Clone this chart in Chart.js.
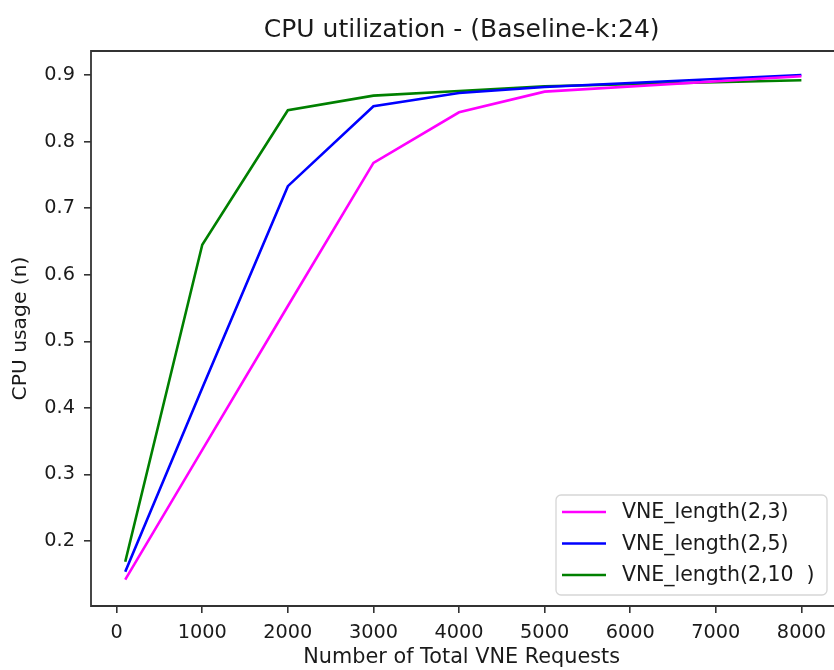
<!DOCTYPE html>
<html>
<head>
<meta charset="utf-8">
<script src="https://cdn.jsdelivr.net/npm/chart.js@4.4.1/dist/chart.umd.min.js"></script>
<style>
  html, body { margin: 0; padding: 0; background: #fff; }
  #wrap { width: 834px; height: 670px; position: relative; }
</style>
</head>
<body>
<div id="wrap"><canvas id="c" width="834" height="670"></canvas></div>
<script>
const requests = [100, 1000, 2000, 3000, 4000, 5000, 8000];
const vne23 = [0.142, 0.337, 0.553, 0.768, 0.844, 0.875, 0.898];
const vne25 = [0.154, 0.430, 0.733, 0.853, 0.873, 0.882, 0.900];
const vne210 = [0.169, 0.645, 0.847, 0.869, 0.876, 0.883, 0.892];
const seriesLabels = ['VNE_length(2,3)', 'VNE_length(2,5)', 'VNE_length(2,10  )'];
const xTicks = [0, 1000, 2000, 3000, 4000, 5000, 6000, 7000, 8000];
const yTicks = [0.2, 0.3, 0.4, 0.5, 0.6, 0.7, 0.8, 0.9];

const FONT = "'DejaVu Sans', sans-serif";
const colors = ['#ff00ff', '#0000ff', '#008000'];
const seriesValues = [vne23, vne25, vne210];

const datasets = seriesValues.map((vals, i) => ({
  label: seriesLabels[i],
  data: requests.map((x, j) => ({ x: x, y: vals[j] })),
  borderColor: colors[i],
  backgroundColor: colors[i],
  borderWidth: 2.6,
  pointRadius: 0,
  tension: 0,
  fill: false
}));

const framePlugin = {
  id: 'frame',
  afterDatasetsDraw(chart) {
    const { ctx, chartArea: a } = chart;
    ctx.save();
    ctx.strokeStyle = '#333';
    ctx.lineWidth = 1.8;
    ctx.beginPath();
    ctx.moveTo(a.right + 2, a.bottom);
    ctx.lineTo(a.left, a.bottom);
    ctx.lineTo(a.left, a.top);
    ctx.lineTo(a.right + 2, a.top);
    ctx.stroke();
    ctx.restore();
  },
  afterDraw(chart) {
    const { ctx } = chart;
    const dsets = chart.data.datasets;
    const bx = 556, by = 495, bw = 271, bh = 100, r = 5;
    ctx.save();
    ctx.globalAlpha = 0.8;
    ctx.fillStyle = '#fff';
    ctx.beginPath();
    ctx.roundRect(bx, by, bw, bh, r);
    ctx.fill();
    ctx.globalAlpha = 1;
    ctx.strokeStyle = '#d6d6d6';
    ctx.lineWidth = 1.3;
    ctx.stroke();
    ctx.font = '20.5px ' + FONT;
    ctx.textBaseline = 'middle';
    ctx.textAlign = 'left';
    const rows = [512, 543.5, 575];
    dsets.forEach((d, i) => {
      ctx.strokeStyle = d.borderColor;
      ctx.lineWidth = 2.6;
      ctx.beginPath();
      ctx.moveTo(562, rows[i]);
      ctx.lineTo(606, rows[i]);
      ctx.stroke();
      ctx.fillStyle = '#1a1a1a';
      ctx.fillText(d.label, 622, rows[i] + 1);
    });
    ctx.restore();
  }
};

new Chart(document.getElementById('c'), {
  type: 'line',
  data: { datasets },
  plugins: [framePlugin],
  options: {
    responsive: false,
    animation: false,
    devicePixelRatio: 1,
    layout: { padding: { left: 0, right: 0, top: 0, bottom: 0 } },
    plugins: {
      legend: { display: false },
      tooltip: { enabled: false },
      title: {
        display: true,
        fullSize: false,
        text: 'CPU utilization - (Baseline-k:24)',
        color: '#1a1a1a',
        font: { family: FONT, size: 25, weight: 'normal' },
        padding: { top: 15, bottom: 6 }
      }
    },
    scales: {
      x: {
        type: 'linear',
        min: -300,
        max: 8362,
        afterBuildTicks: (s) => { s.ticks = xTicks.map(v => ({ value: v })); },
        afterFit: (s) => { s.height = 64; },
        border: { display: false },
        grid: { display: true, drawOnChartArea: false, drawTicks: true, tickLength: 7, color: '#333', lineWidth: 1.6 },
        ticks: {
          color: '#1a1a1a', padding: 8, maxRotation: 0, autoSkip: false,
          font: { family: FONT, size: 19.3 },
          callback: (v) => String(v)
        },
        title: {
          display: true, text: 'Number of Total VNE Requests', color: '#1a1a1a',
          font: { family: FONT, size: 20.8 }, padding: { top: 0, bottom: 0 }
        }
      },
      y: {
        type: 'linear',
        min: 0.1025,
        max: 0.936,
        afterBuildTicks: (s) => { s.ticks = yTicks.map(v => ({ value: v })); },
        afterFit: (s) => { s.width = 91; },
        border: { display: false },
        grid: { display: true, drawOnChartArea: false, drawTicks: true, tickLength: 7, color: '#333', lineWidth: 1.6 },
        ticks: {
          color: '#1a1a1a', padding: 9,
          font: { family: FONT, size: 19.3 },
          callback: (v) => v.toFixed(1)
        },
        title: {
          display: true, text: 'CPU usage (n)', color: '#1a1a1a',
          font: { family: FONT, size: 20.3 }, padding: { top: 9, bottom: 0 }
        }
      }
    }
  }
});
</script>
</body>
</html>
